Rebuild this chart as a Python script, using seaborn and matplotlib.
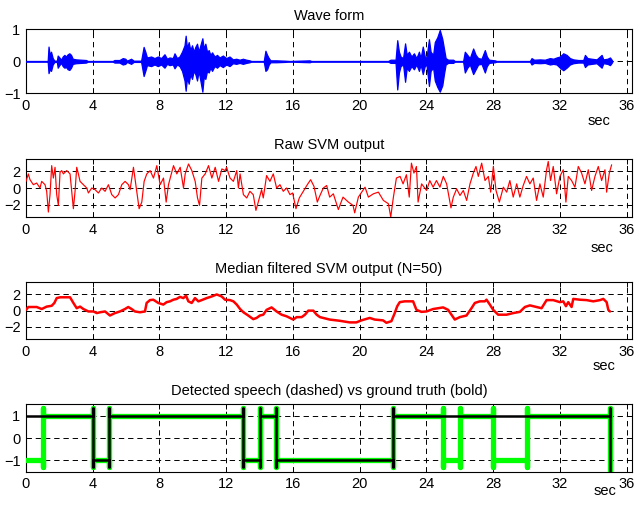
import numpy as np
import pandas as pd
import matplotlib
matplotlib.use("Agg")
import matplotlib.pyplot as plt
import seaborn as sns

# ---------------- data ----------------
# waveform envelope (time in s, upper / lower envelope)
wave_t = [0.0, 1.3, 1.35, 1.42, 1.5, 1.6, 1.7, 1.85, 1.9, 2.0, 2.1, 2.2, 2.3, 2.4, 2.5, 2.6, 2.7, 2.8, 3.0,
          3.3, 3.6, 3.7, 5.2, 5.3, 5.6, 5.8, 5.95, 6.05, 6.3, 6.45, 6.9, 7.05, 7.15, 7.25, 7.5, 7.7, 7.9,
          8.1, 8.3, 8.45, 8.6, 8.8, 8.9, 9.05, 9.2, 9.35, 9.5, 9.57, 9.65, 9.75, 9.85, 9.95, 10.05, 10.15,
          10.25, 10.35, 10.45, 10.57, 10.65, 10.75, 10.85, 10.95, 11.05, 11.15, 11.3, 11.45, 11.6, 11.8,
          12.0, 12.2, 12.4, 12.6, 12.8, 13.0, 13.2, 13.4, 13.5, 14.25, 14.35, 14.45, 14.55, 14.65, 15.0,
          15.5, 15.8, 17.0, 17.1, 21.7, 21.85, 22.15, 22.25, 22.35, 22.45, 22.6, 22.72, 22.82, 22.95,
          23.1, 23.25, 23.4, 23.55, 23.65, 23.78, 23.9, 24.0, 24.15, 24.25, 24.4, 24.5, 24.65, 24.8,
          24.95, 25.05, 25.15, 25.3, 25.6, 25.7, 26.2, 26.3, 26.45, 26.6, 26.8, 26.95, 27.1, 27.3, 27.5,
          27.62, 27.75, 28.1, 28.2, 30.2, 30.3, 30.45, 30.8, 31.1, 31.4, 31.6, 31.8, 32.0, 32.2, 32.4,
          32.6, 32.8, 33.1, 33.4, 33.5, 33.65, 33.9, 34.2, 34.5, 34.6, 34.85, 35.0, 35.1, 35.15]
wave_hi = [0.01, 0.01, 0.46, 0.2, 0.3, 0.1, 0.02, 0.02, 0.18, 0.12, 0.05, 0.15, 0.2, 0.15, 0.22, 0.25, 0.2, 0.08, 0.06,
           0.05, 0.04, 0.01, 0.01, 0.04, 0.04, 0.1, 0.08, 0.02, 0.08, 0.02, 0.02, 0.45, 0.3, 0.12, 0.15, 0.1, 0.15,
           0.1, 0.22, 0.08, 0.12, 0.1, 0.25, 0.1, 0.15, 0.3, 0.5, 0.8, 0.4, 0.6, 0.35, 0.5, 0.3, 0.45,
           0.55, 0.3, 0.5, 0.72, 0.4, 0.55, 0.3, 0.35, 0.2, 0.28, 0.15, 0.2, 0.12, 0.18,
           0.1, 0.15, 0.06, 0.08, 0.05, 0.08, 0.05, 0.03, 0.01, 0.01, 0.33, 0.2, 0.1, 0.03, 0.03,
           0.02, 0.01, 0.03, 0.01, 0.01, 0.05, 0.05, 0.66, 0.3, 0.15, 0.1, 0.56, 0.2, 0.3,
           0.15, 0.25, 0.1, 0.3, 0.1, 0.46, 0.15, 0.1, 0.69, 0.3, 0.2, 0.6, 0.75, 0.98,
           0.7, 0.4, 0.1, 0.05, 0.05, 0.01, 0.01, 0.3, 0.2, 0.1, 0.4, 0.2, 0.1, 0.08, 0.35,
           0.15, 0.05, 0.03, 0.01, 0.01, 0.1, 0.05, 0.06, 0.05, 0.1, 0.08, 0.12, 0.15, 0.25, 0.2,
           0.1, 0.06, 0.04, 0.04, 0.2, 0.1, 0.08, 0.06, 0.2, 0.06, 0.08, 0.12, 0.05, 0.0]
wave_lo = [-0.01, -0.01, -0.37, -0.25, -0.3, -0.1, -0.02, -0.02, -0.2, -0.12, -0.05, -0.15, -0.2, -0.18, -0.25, -0.27, -0.2, -0.08, -0.06,
           -0.05, -0.04, -0.01, -0.01, -0.04, -0.04, -0.1, -0.08, -0.02, -0.08, -0.02, -0.02, -0.46, -0.3, -0.12, -0.15, -0.1, -0.15,
           -0.1, -0.2, -0.08, -0.12, -0.1, -0.22, -0.1, -0.15, -0.3, -0.6, -0.92, -0.5, -0.7, -0.4, -0.55, -0.3, -0.4,
           -0.6, -0.3, -0.6, -0.95, -0.5, -0.55, -0.3, -0.35, -0.2, -0.3, -0.15, -0.2, -0.12, -0.18,
           -0.1, -0.15, -0.06, -0.08, -0.05, -0.08, -0.05, -0.03, -0.01, -0.01, -0.3, -0.25, -0.1, -0.03, -0.03,
           -0.02, -0.01, -0.03, -0.01, -0.01, -0.05, -0.05, -0.88, -0.35, -0.15, -0.1, -0.64, -0.2, -0.3,
           -0.15, -0.25, -0.1, -0.3, -0.1, -0.4, -0.15, -0.1, -0.77, -0.3, -0.2, -0.6, -0.8, -0.95,
           -0.75, -0.4, -0.1, -0.05, -0.05, -0.01, -0.01, -0.35, -0.2, -0.1, -0.4, -0.25, -0.1, -0.08, -0.35,
           -0.15, -0.05, -0.03, -0.01, -0.01, -0.1, -0.05, -0.06, -0.05, -0.1, -0.08, -0.1, -0.2, -0.28, -0.2,
           -0.1, -0.06, -0.04, -0.04, -0.18, -0.1, -0.08, -0.06, -0.2, -0.06, -0.08, -0.12, -0.05, 0.0]

# raw SVM output
raw_t = [0.0, 0.14, 0.24, 0.44, 0.64, 0.84, 0.94, 1.14, 1.24, 1.34, 1.44, 1.54, 1.64, 1.74, 1.84, 1.94, 2.04,
         2.14, 2.24, 2.44, 2.64, 2.84, 2.94, 3.04, 3.14, 3.24, 3.44, 3.64, 3.74, 3.94, 4.14, 4.34, 4.54,
         4.74, 4.94, 5.14, 5.34, 5.54, 5.74, 5.94, 6.14, 6.24, 6.44, 6.64, 6.78, 6.94, 7.08, 7.24, 7.44,
         7.64, 7.84, 8.04, 8.24, 8.4, 8.54, 8.84, 9.04, 9.24, 9.44, 9.54, 9.74, 9.94, 10.14, 10.28, 10.4,
         10.54, 10.74, 10.94, 11.14, 11.34, 11.54, 11.74, 11.94, 12.02, 12.23, 12.43, 12.63, 12.73, 12.83,
         13.03, 13.23, 13.42, 13.62, 13.78, 13.92, 14.12, 14.22, 14.42, 14.62, 14.82, 15.02, 15.22, 15.42,
         15.62, 15.82, 15.98, 16.18, 16.38, 16.62, 16.86, 17.06, 17.26, 17.46, 17.62, 17.82, 18.02, 18.2,
         18.42, 18.72, 19.0, 19.32, 19.6, 19.7, 19.92, 20.12, 20.32, 20.52, 20.82, 21.12, 21.42, 21.72,
         21.86, 22.02, 22.2, 22.42, 22.6, 22.8, 22.97, 23.1, 23.25, 23.4, 23.5, 23.71, 24.01, 24.2, 24.4,
         24.6, 24.81, 25.01, 25.21, 25.47, 25.61, 25.81, 26.01, 26.21, 26.41, 26.61, 26.81, 26.97, 27.11,
         27.31, 27.51, 27.71, 27.85, 28.01, 28.17, 28.37, 28.61, 28.81, 29.0, 29.2, 29.41, 29.6, 29.8,
         30.0, 30.2, 30.4, 30.6, 30.8, 31.0, 31.2, 31.3, 31.44, 31.6, 31.8, 32.0, 32.2, 32.36, 32.5, 32.7,
         32.9, 33.1, 33.3, 33.5, 33.7, 33.9, 34.1, 34.3, 34.5, 34.7, 34.8, 34.96, 35.1]
raw_v = [0.8, 1.7, 1.0, 0.4, 0.6, 0.0, 0.8, 0.4, -0.4, -2.9, -0.8, 2.7, 1.2, 2.5, -0.8, -2.1, 1.9,
         2.1, 1.7, 2.1, 1.7, -2.5, -0.4, 2.5, 1.7, 0.8, 0.4, 0.0, -0.6, 0.0, -0.2, -0.6, 0.0,
         -0.4, 0.4, -0.8, -1.2, -0.8, 0.4, 0.8, 0.4, -0.2, 2.5, -0.4, -2.5, -1.7, 0.8, 1.7, 2.1,
         1.2, 2.7, 0.4, 1.2, -1.7, 0.4, 2.7, 1.7, 2.5, 0.0, 1.7, 2.9, 2.1, 0.8, -1.2, -2.1,
         1.2, 1.7, 2.7, 1.2, 2.5, 0.8, 2.3, 2.1, 2.5, 1.2, 0.8, 2.1, 0.0, 1.7,
         -0.8, -1.2, -0.4, -0.8, -2.7, -1.7, -0.2, -1.2, 1.5, 0.8, 1.7, 0.0, 0.4, -0.4,
         0.0, -0.8, -0.6, -2.5, -1.2, -0.4, 0.4, 1.0, 0.2, -1.7, -0.9, 0.0, 0.3, -1.1,
         -0.7, -2.6, -1.1, -1.7, -2.1, -3.0, -1.1, -0.5, 0.1, -1.1, -0.7, -0.5, -1.5, -1.9,
         -3.5, -1.1, 1.2, 1.4, 0.5, 1.6, -1.1, 3.0, 1.8, 2.6, -1.7, 0.5, -0.3, 0.9, 0.1,
         0.9, 0.1, 1.4, 0.5, -2.4, -1.1, -0.1, -0.9, -0.3, -1.5, 0.5, 1.8, 2.6, 1.4,
         3.0, 0.9, 1.4, -0.5, 2.6, -0.3, -1.7, 0.1, -0.5, 0.9, -1.1, 0.5, -1.1, 0.3,
         1.4, 0.5, 1.2, -1.5, 0.5, -1.1, 2.2, 3.2, 0.9, 2.6, -0.7, 1.4, 2.2, -1.7, 1.4, 0.9,
         0.1, 2.6, 1.8, 0.5, 2.2, -0.3, 1.4, 2.6, 0.9, 2.2, -0.5, 1.8, 2.8]

# median filtered SVM output (N=50)
med_t = [0.0, 0.14, 0.64, 0.94, 1.24, 1.54, 1.7, 1.84, 2.04, 2.64, 2.84, 3.04, 3.24, 3.44, 3.74, 4.04,
         4.24, 4.44, 4.74, 5.03, 5.33, 5.63, 5.93, 6.13, 6.33, 6.53, 6.83, 7.13, 7.23, 7.43, 7.63, 7.93,
         8.23, 8.43, 8.63, 8.83, 9.03, 9.23, 9.43, 9.59, 9.73, 9.93, 10.13, 10.33, 10.53, 10.83, 11.13,
         11.43, 11.73, 11.93, 12.23, 12.43, 12.63, 12.83, 13.03, 13.32, 13.62, 13.82, 14.02, 14.22, 14.42,
         14.72, 15.02, 15.32, 15.62, 15.92, 16.02, 16.22, 16.52, 16.72, 16.92, 17.22, 17.42, 17.62, 18.2,
         18.8, 19.4, 19.8, 20.1, 20.6, 20.9, 21.4, 21.6, 21.9, 22.1, 22.25, 22.4, 22.7, 23.2, 23.4, 23.7,
         24.0, 24.4, 24.7, 25.0, 25.3, 25.5, 25.7, 26.0, 26.4, 26.7, 26.9, 27.2, 27.5, 27.6, 27.8, 28.0,
         28.3, 28.8, 29.2, 29.6, 29.9, 30.2, 30.6, 30.9, 31.2, 31.6, 32.0, 32.2, 32.36, 32.5, 32.7, 32.8,
         33.2, 33.6, 34.0, 34.4, 34.6, 34.8, 34.9, 35.0]
med_v = [0.1, 0.45, 0.45, 0.2, 0.5, 0.6, 0.95, 1.55, 1.65, 1.65, 0.95, 0.3, 0.5, 0.2, -0.1, -0.1,
         -0.3, -0.2, -0.1, -0.6, -0.3, -0.1, 0.2, 0.45, 0.2, -0.1, -0.2, -0.1, 0.95, 1.3, 1.35, 0.95,
         0.75, 1.05, 1.15, 1.35, 1.45, 1.7, 1.55, 1.85, 1.15, 0.95, 1.55, 1.15, 1.3, 1.55, 1.75,
         2.0, 1.75, 1.35, 1.3, 1.15, 0.75, 0.2, -0.2, -0.6, -1.05, -0.9, -0.6, -0.5, 0.1,
         0.4, -0.1, -0.5, -0.7, -1.0, -1.1, -0.8, -0.8, -0.5, 0.0, 0.0, -0.5, -0.8, -1.1,
         -1.25, -1.45, -1.45, -1.2, -0.9, -1.1, -1.2, -1.5, -1.3, -0.3, 0.55, 1.05, 1.15, 1.15, 0.1, -0.15,
         -0.1, 0.2, 0.3, 0.4, 0.1, -0.5, -1.1, -0.8, -0.6, 0.3, 0.95, 1.15, 1.15, 1.35, 0.75, 0.1,
         -0.5, -0.5, -0.3, -0.15, 0.45, 0.65, 0.45, 0.3, 1.3, 1.3, 1.05, 1.15, 0.55, 1.05, 0.45, 1.45,
         1.35, 1.3, 1.15, 1.3, 1.45, 1.05, 0.1, -0.1]

# detected speech (green) and ground truth (black): switching times and levels
det_edges = [0, 1, 4, 5, 13, 14, 15, 22, 25, 26, 28, 30, 35]
det_levels = [-1, 1, -1, 1, -1, 1, -1, 1, -1, 1, -1, 1]
truth_edges = [0, 4, 5, 13, 14, 15, 22, 35]
truth_levels = [1, -1, 1, -1, 1, -1, 1]
end_level = -2.0
over_hi, over_lo = 1.35, -1.3

titles = ["Wave form", "Raw SVM output", "Median filtered SVM output (N=50)",
          "Detected speech (dashed) vs ground truth (bold)"]
x_ticks = [0, 4, 8, 12, 16, 20, 24, 28, 32, 36]


def step_path(edges, levels):
    xs, ys = [edges[0]], [levels[0]]
    seq = list(levels) + [end_level]
    for i in range(1, len(edges)):
        a, b = seq[i - 1], seq[i]
        t = edges[i]
        if i < len(edges) - 1:
            first = over_hi if a > 0 else over_lo
            second = over_hi if b > 0 else over_lo
            xs += [t, t, t, t]
            ys += [a, first, second, b]
        else:
            xs += [t, t, t]
            ys += [a, over_hi if a > 0 else a, b]
    return pd.DataFrame({"t": xs, "v": ys})


# ---------------- figure ----------------
sns.set_theme(style="white")
plt.rcParams["font.family"] = ["Liberation Sans", "DejaVu Sans"]

W, H = 635, 505
fig = plt.figure(figsize=(W / 100, H / 100), dpi=100)
boxes = [(29.3, 93.3), (159.0, 217.0), (282.3, 339.0), (404.3, 471.7)]  # top, bottom (px)
left_px, right_px = 26.0, 632.0
axes = []
for top, bot in boxes:
    axes.append(fig.add_axes([left_px / W, 1 - bot / H, (right_px - left_px) / W, (bot - top) / H]))

ylims = [(-1, 1), (-3.5, 3.5), (-3.5, 3.5), (-1.5, 1.5)]
yticks = [[-1, 0, 1], [-2, 0, 2], [-2, 0, 2], [-1, 0, 1]]
sec_pos = [(0.946, -0.43), (0.950, -0.53), (0.954, -0.48), (0.956, -0.29)]

# panel 1: waveform
ax = axes[0]
ax.fill_between(wave_t, wave_lo, wave_hi, color="#0000FF", linewidth=0.9, edgecolor="#0000FF", zorder=3)

# panel 2: raw SVM output
sns.lineplot(x=raw_t, y=raw_v, ax=axes[1], color="#FF0000", linewidth=0.85,
             estimator=None, sort=False, zorder=3)

# panel 3: median filtered
sns.lineplot(x=med_t, y=med_v, ax=axes[2], color="#FF0000", linewidth=1.8,
             estimator=None, sort=False, zorder=3)

# panel 4: detection vs ground truth
det_df = step_path(det_edges, det_levels)
tru_df = step_path(truth_edges, truth_levels)
sns.lineplot(data=det_df, x="t", y="v", ax=axes[3], color="#00FF00", linewidth=3.8,
             estimator=None, sort=False, zorder=3)
sns.lineplot(data=tru_df, x="t", y="v", ax=axes[3], color="black", linewidth=1.8,
             estimator=None, sort=False, zorder=4)

for i, ax in enumerate(axes):
    ax.set_xlim(0, 36.32)
    ax.set_ylim(*ylims[i])
    ax.set_xticks(x_ticks)
    ax.set_yticks(yticks[i])
    ax.set_xlabel("")
    ax.set_ylabel("")
    ax.set_axisbelow(True)
    ax.grid(True, color="black", linestyle=(0, (5.5, 4.0)), linewidth=0.7)
    ax.tick_params(direction="in", top=True, right=True, bottom=True, left=True,
                   length=3.5, width=0.7, labelsize=10.5, colors="black", pad=4)
    for s in ax.spines.values():
        s.set_visible(True)
        s.set_color("black")
        s.set_linewidth(0.8)
    ax.set_title(titles[i], fontsize=10.5, pad=7, color="black")
    ax.text(sec_pos[i][0], sec_pos[i][1], "sec", transform=ax.transAxes,
            ha="center", va="center", fontsize=10.5, color="black")
    ax.set_facecolor("white")

fig.savefig("out.png", dpi=100, facecolor="white")
